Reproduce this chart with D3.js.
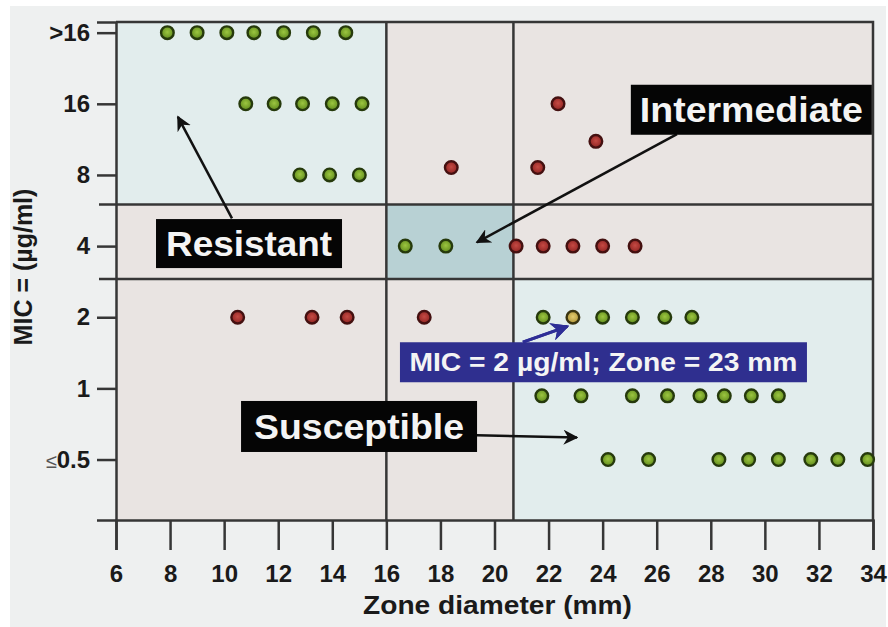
<!DOCTYPE html>
<html>
<head>
<meta charset="utf-8">
<script src="https://cdn.jsdelivr.net/npm/d3@7"></script>
<style>
  body { margin: 0; background: #ffffff; }
  text { font-family: "Liberation Sans", Arial, sans-serif; font-weight: bold; }
</style>
</head>
<body>
<div id="chart"></div>
<script>
// MIC vs zone diameter scattergram with interpretive breakpoints

////////////////////////////////////////////////////////////////////////
// Data

let micTicks  = [32, 16, 8, 4, 2, 1, 0.5];
let micLabels = [">16", "16", "8", "4", "2", "1", "0.5"];
let zoneTicks = [6, 8, 10, 12, 14, 16, 18, 20, 22, 24, 26, 28, 30, 32, 34];

// breakpoints: zone diameter (mm) and MIC (between the categories)
let zoneBreaks = [16, 20.7];
let micBreaks  = [6, 2.9];

// [zone, MIC]
let greenIsolates = [
  [7.9, 32], [9.0, 32], [10.1, 32], [11.1, 32], [12.2, 32], [13.3, 32], [14.5, 32],
  [10.8, 16], [11.85, 16], [12.9, 16], [14.0, 16], [15.1, 16],
  [12.8, 8], [13.9, 8], [15.0, 8],
  [16.7, 4], [18.2, 4],
  [21.8, 2], [24.0, 2], [25.1, 2], [26.3, 2], [27.3, 2],
  [21.75, 0.93], [23.2, 0.93], [25.1, 0.93], [26.4, 0.93], [27.6, 0.93], [28.5, 0.93], [29.5, 0.93], [30.5, 0.93],
  [24.2, 0.5], [25.7, 0.5], [28.3, 0.5], [29.4, 0.5], [30.5, 0.5], [31.7, 0.5], [32.7, 0.5], [33.8, 0.5]
];

let redIsolates = [
  [22.35, 16], [23.75, 11.1], [21.6, 8.6], [18.4, 8.6],
  [20.8, 4], [21.8, 4], [22.9, 4], [24.0, 4], [25.2, 4],
  [10.5, 2], [13.25, 2], [14.55, 2], [17.4, 2]
];

let highlightIsolate = [[22.9, 2]];

////////////////////////////////////////////////////////////////////////
// Layout

let width = 888, height = 627;

let xScale = d3.scaleLinear().domain([6, 34]).range([116, 873]);
let yScale = d3.scaleLog().base(2)
    .domain([Math.pow(2, -1.85), Math.pow(2, 5.15)])
    .range([520, 22]);

let svg = d3.select("#chart").append("svg")
    .attr("width", width)
    .attr("height", height);

svg.append("rect")
  .attr("x", 10).attr("y", 6)
  .attr("width", 876).attr("height", 621)
  .attr("fill", "#eef0f0");

// shaded regions
let zoneEdges = [6].concat(zoneBreaks, [34]);
let micEdges = [yScale.domain()[1]].concat(micBreaks, [yScale.domain()[0]]);
let cells = [];
for (let r = 0; r < 3; ++r) {
  for (let c = 0; c < 3; ++c) {
    let kind = "other";
    if (r == 0 && c == 0) kind = "resistant";
    if (r == 1 && c == 1) kind = "intermediate";
    if (r == 2 && c == 2) kind = "susceptible";
    cells.push({x0: zoneEdges[c], x1: zoneEdges[c+1], m0: micEdges[r], m1: micEdges[r+1], kind: kind});
  }
}
let regionColor = {resistant: "#e2eded", intermediate: "#b8d1d4", susceptible: "#e2eded", other: "#e9e4e2"};

svg.append("g").selectAll("rect")
  .data(cells)
  .enter().append("rect")
  .attr("x", d => xScale(d.x0))
  .attr("y", d => yScale(d.m0))
  .attr("width", d => xScale(d.x1) - xScale(d.x0))
  .attr("height", d => yScale(d.m1) - yScale(d.m0))
  .attr("fill", d => regionColor[d.kind]);

// breakpoint lines
let lineColor = "#363636";
svg.append("g").selectAll("line")
  .data(zoneBreaks)
  .enter().append("line")
  .attr("x1", d => xScale(d)).attr("x2", d => xScale(d))
  .attr("y1", yScale.range()[1]).attr("y2", yScale.range()[0])
  .attr("stroke", lineColor).attr("stroke-width", 2.5);

svg.append("g").selectAll("line")
  .data(micBreaks)
  .enter().append("line")
  .attr("x1", xScale(6) - 17).attr("x2", xScale(34))
  .attr("y1", d => yScale(d)).attr("y2", d => yScale(d))
  .attr("stroke", lineColor).attr("stroke-width", 2.5);

// frame (top and right)
svg.append("path")
  .attr("d", "M" + xScale(6) + "," + yScale.range()[1] + "H" + xScale(34) + "V" + yScale.range()[0])
  .attr("fill", "none").attr("stroke", lineColor).attr("stroke-width", 2.5);

// axes
let yAxis = d3.axisLeft(yScale)
    .tickValues(micTicks)
    .tickFormat((d, i) => micLabels[i])
    .tickSize(19)
    .tickPadding(7);

let gy = svg.append("g")
    .attr("transform", "translate(" + xScale(6) + ",0)")
    .call(yAxis);
gy.select(".domain").attr("stroke", lineColor).attr("stroke-width", 2.5);
gy.selectAll(".tick line").attr("stroke", lineColor).attr("stroke-width", 2.5);
gy.selectAll(".tick text")
  .attr("font-size", 24).attr("fill", "#1a1a1a")
  .attr("font-family", "Liberation Sans, Arial, sans-serif")
  .attr("font-weight", "bold");
// the "less or equal" sign is drawn in a lighter weight
gy.selectAll(".tick text").filter(d => d == 0.5)
  .text(null)
  .call(t => {
    t.append("tspan").attr("font-weight", "normal").attr("font-size", 20).attr("fill", "#555").text("\u2264");
    t.append("tspan").text("0.5");
  });

let xAxis = d3.axisBottom(xScale)
    .tickValues(zoneTicks)
    .tickSize(30)
    .tickPadding(15);

let gx = svg.append("g")
    .attr("transform", "translate(0," + yScale.range()[0] + ")")
    .call(xAxis);
gx.select(".domain").attr("stroke", lineColor).attr("stroke-width", 2.5);
gx.selectAll(".tick line").attr("stroke", lineColor).attr("stroke-width", 2.5);
gx.selectAll(".tick text")
  .attr("font-size", 24).attr("fill", "#1a1a1a")
  .attr("font-family", "Liberation Sans, Arial, sans-serif")
  .attr("font-weight", "bold");

// axis titles
svg.append("text")
  .attr("x", (xScale(6) + xScale(34)) / 2 + 3)
  .attr("y", 614)
  .attr("text-anchor", "middle")
  .attr("font-size", 25)
  .attr("fill", "#1a1a1a")
  .attr("textLength", 269).attr("lengthAdjust", "spacingAndGlyphs")
  .text("Zone diameter (mm)");

svg.append("text")
  .attr("transform", "translate(32,267) rotate(-90)")
  .attr("text-anchor", "middle")
  .attr("font-size", 25)
  .attr("fill", "#1a1a1a")
  .text("MIC = (\u00b5g/ml)");

////////////////////////////////////////////////////////////////////////
// Isolates

function drawDots(data, fill, stroke) {
  svg.append("g").selectAll("circle")
    .data(data)
    .enter().append("circle")
    .attr("cx", d => xScale(d[0]))
    .attr("cy", d => yScale(d[1]))
    .attr("r", 6.3)
    .attr("fill", fill)
    .attr("stroke", stroke)
    .attr("stroke-width", 2.4);
}

let defs = svg.append("defs");
function ballGradient(id, inner, outer) {
  let g = defs.append("radialGradient").attr("id", id).attr("cx", "50%").attr("cy", "45%").attr("r", "55%");
  g.append("stop").attr("offset", "0%").attr("stop-color", inner);
  g.append("stop").attr("offset", "100%").attr("stop-color", outer);
}
ballGradient("gGreen", "#9cc640", "#5f8a1c");
ballGradient("gRed", "#c54a44", "#8e2422");
ballGradient("gYellow", "#e3cc70", "#ad9236");

drawDots(greenIsolates, "url(#gGreen)", "#263a0c");
drawDots(redIsolates, "url(#gRed)", "#441010");
drawDots(highlightIsolate, "url(#gYellow)", "#3a3410");

////////////////////////////////////////////////////////////////////////
// Annotations (placed in zone / MIC units)

function arrowMarker(id, color) {
  defs.append("marker")
    .attr("id", id)
    .attr("viewBox", "0 0 10 10")
    .attr("refX", 9).attr("refY", 5)
    .attr("markerWidth", 6).attr("markerHeight", 6)
    .attr("markerUnits", "strokeWidth")
    .attr("orient", "auto")
    .append("path")
    .attr("d", "M0,0 L10,5 L0,10 L3,5 Z")
    .attr("fill", color);
}
arrowMarker("arrowBlack", "#111");
arrowMarker("arrowBlue", "#2e2e96");

let arrows = [
  {from: [10.29, 5.24], to: [8.29, 14.1], color: "#111", marker: "arrowBlack", w: 2.5},
  {from: [26.75, 11.9], to: [19.35, 4.15], color: "#111", marker: "arrowBlack", w: 2.5},
  {from: [19.35, 0.633], to: [23.05, 0.62], color: "#111", marker: "arrowBlack", w: 2.5},
  {from: [21.05, 1.57], to: [22.7, 1.83], color: "#2e2e96", marker: "arrowBlue", w: 3}
];

svg.append("g").selectAll("line")
  .data(arrows)
  .enter().append("line")
  .attr("x1", d => xScale(d.from[0])).attr("y1", d => yScale(d.from[1]))
  .attr("x2", d => xScale(d.to[0])).attr("y2", d => yScale(d.to[1]))
  .attr("stroke", d => d.color)
  .attr("stroke-width", d => d.w)
  .attr("marker-end", d => "url(#" + d.marker + ")");

let labels = [
  {text: "Resistant", at: [10.92, 4.1], w: 186, h: 49, fs: 35, tl: 166, bg: "#050505"},
  {text: "Intermediate", at: [29.5, 15.1], w: 241, h: 50, fs: 35, tl: 223, bg: "#050505"},
  {text: "Susceptible", at: [14.99, 0.69], w: 236, h: 51, fs: 35, tl: 210, bg: "#050505"},
  {text: "MIC = 2 \u00b5g/ml; Zone = 23 mm", at: [24.03, 1.29], w: 407, h: 40, fs: 25, tl: 388, bg: "#2f2f8f"}
];

let lab = svg.append("g").selectAll("g")
  .data(labels)
  .enter().append("g")
  .attr("transform", d => "translate(" + xScale(d.at[0]) + "," + yScale(d.at[1]) + ")");

lab.append("rect")
  .attr("x", d => -d.w / 2).attr("y", d => -d.h / 2)
  .attr("width", d => d.w).attr("height", d => d.h)
  .attr("fill", d => d.bg);

lab.append("text")
  .attr("text-anchor", "middle")
  .attr("dy", "0.36em")
  .attr("font-size", d => d.fs)
  .attr("fill", "#f4f4f4")
  .attr("textLength", d => d.tl)
  .attr("lengthAdjust", "spacingAndGlyphs")
  .text(d => d.text);

// the blue arrow sits on top of the blue label
svg.append("line")
  .datum(arrows[3])
  .attr("x1", d => xScale(d.from[0])).attr("y1", d => yScale(d.from[1]))
  .attr("x2", d => xScale(d.to[0])).attr("y2", d => yScale(d.to[1]))
  .attr("stroke", d => d.color)
  .attr("stroke-width", d => d.w)
  .attr("marker-end", d => "url(#" + d.marker + ")");
</script>
</body>
</html>
